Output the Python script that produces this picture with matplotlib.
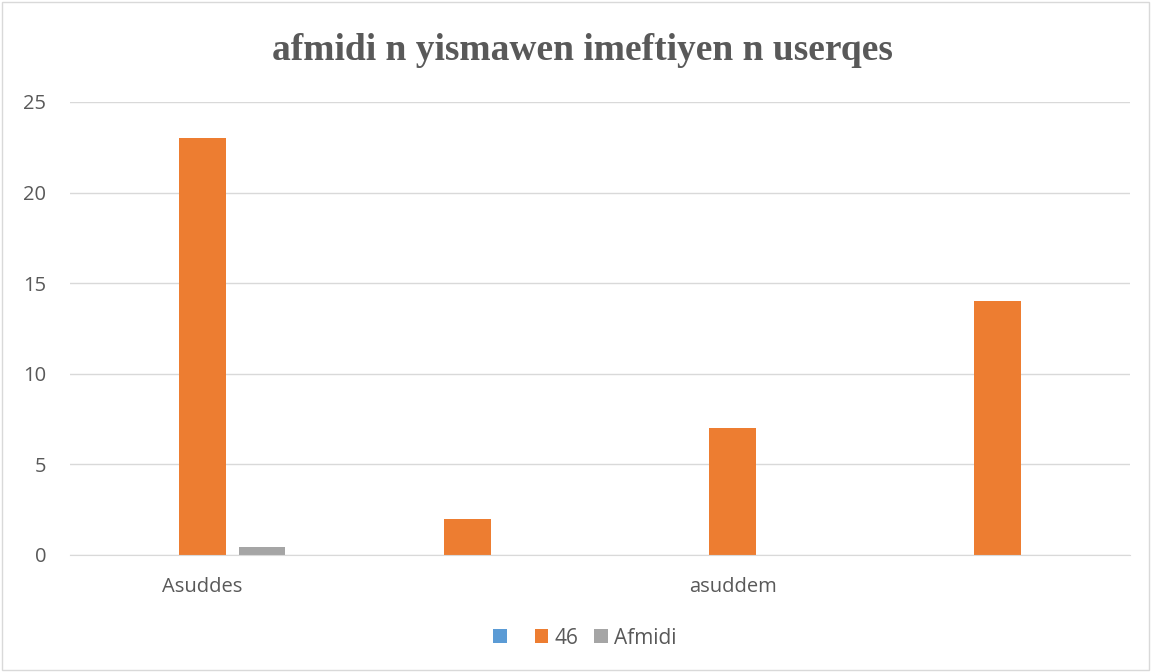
import matplotlib
matplotlib.use("Agg")
import matplotlib.pyplot as plt
import numpy as np
from matplotlib.patches import Rectangle

categories = ["Asuddes", "", "asuddem", ""]
series_names = [" ", "46", "Afmidi"]
series_blue = [0, 0, 0, 0]
series_46 = [23, 2, 7, 14]
series_afmidi = [0.45, 0, 0, 0]
colors = ["#5b9bd5", "#ed7d31", "#a5a5a5"]
yticks = [0, 5, 10, 15, 20, 25]

fig = plt.figure(figsize=(11.51, 6.72), dpi=100)
ax = fig.add_axes([70/1151, 1-555/672, (1130-70)/1151, (555-102)/672])

x = np.arange(len(categories))
bw = 0.174
off = 0.223
for i, (vals, name, c) in enumerate(zip([series_blue, series_46, series_afmidi], series_names, colors)):
    ax.bar(x + (i-1)*off, vals, width=bw, color=c, label=name, zorder=3)

ax.set_xlim(-0.5, len(categories)-0.5)
ax.set_ylim(0, 25)
ax.set_yticks(yticks)
ax.set_yticklabels([str(v) for v in yticks], fontsize=14.5, color="#595959", family="Open Sans")
ax.set_xticks(x)
ax.set_xticklabels(categories, fontsize=14.5, color="#595959", family="Open Sans")
ax.tick_params(axis="both", length=0)
ax.tick_params(axis="y", pad=17)
ax.tick_params(axis="x", pad=16)
ax.yaxis.grid(True, color="#d9d9d9", linewidth=1, zorder=0)
for s in ["top", "right", "left"]:
    ax.spines[s].set_visible(False)
ax.spines["bottom"].set_color("#d9d9d9")
ax.spines["bottom"].set_zorder(4)

fig.text(582/1151, 1-50/672, "afmidi n yismawen imeftiyen n userqes", ha="center", va="center",
         fontsize=27, fontweight="bold", family="Liberation Serif", color="#595959")

leg = fig.legend(loc="center", bbox_to_anchor=(585/1151, 1-638/672), ncol=3, frameon=False,
                 prop={"family": "Open Sans", "size": 15}, handlelength=0.65, handleheight=0.65,
                 columnspacing=0.77, handletextpad=0.3)
for t in leg.get_texts():
    t.set_color("#595959")

fig.patches.append(Rectangle((2/1151, 2/672), 1-4/1151, 1-4/672, transform=fig.transFigure,
                             fill=False, edgecolor="#d9d9d9", linewidth=1))
fig.savefig("out.png", dpi=100, facecolor="white")
